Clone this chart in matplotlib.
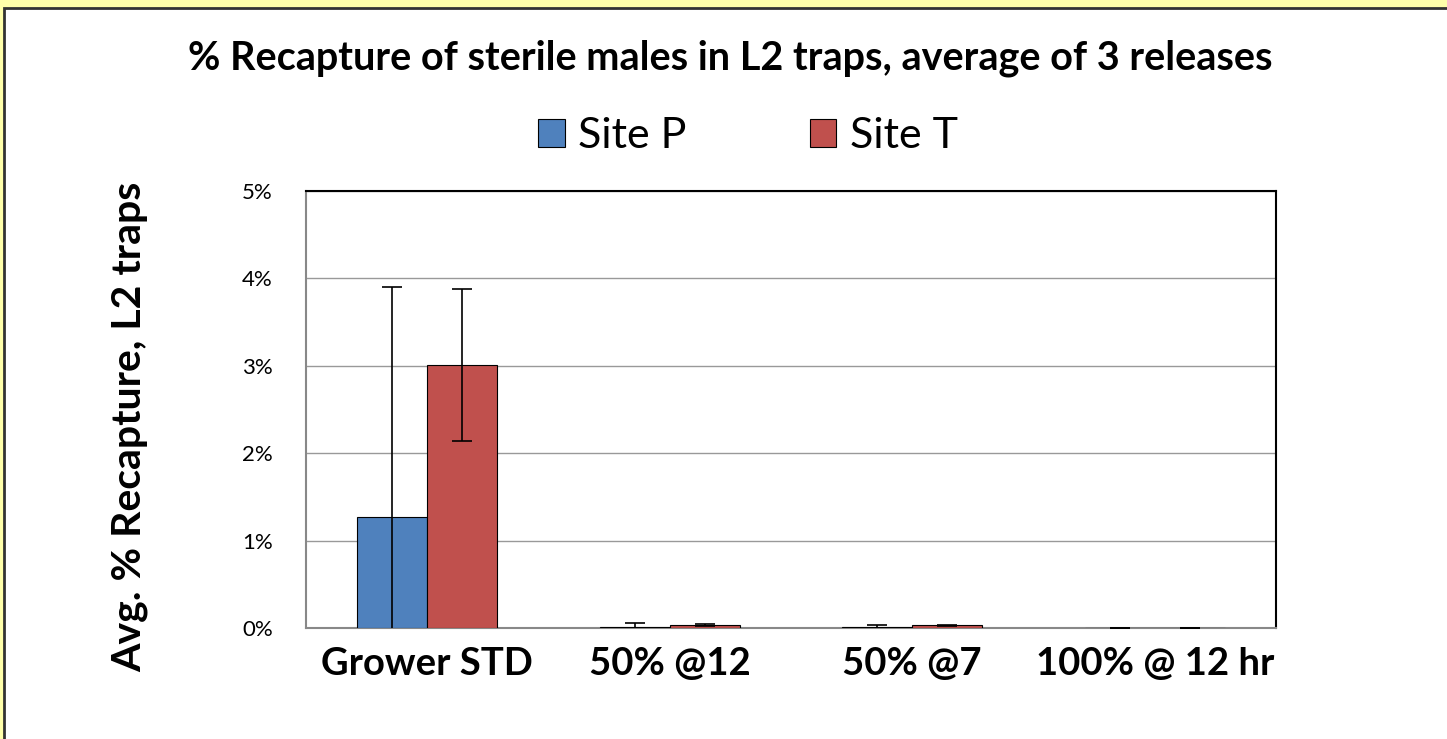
import matplotlib.pyplot as plt
import matplotlib.patches as mpatches
import numpy as np

# Recapture data (% of released sterile males)
categories = ['Grower STD', '50% @12', '50% @7', '100% @ 12 hr']
site_p = [1.27, 0.01, 0.01, 0.003]
site_t = [3.01, 0.034, 0.03, 0.003]
site_p_err = [2.63, 0.047, 0.03, 0.0]
site_t_err = [0.87, 0.01, 0.01, 0.0]
yticks = [0, 1, 2, 3, 4, 5]

plt.rcParams['font.family'] = ['Lato', 'DejaVu Sans']

fig = plt.figure(figsize=(14.47, 7.39), dpi=100)
fig.patch.set_facecolor('#FFFFAA')

# white chart area with a dark border
frame = mpatches.Rectangle((4 / 1447, -0.01), 1.01, 1 - 8 / 739 + 0.01,
                           transform=fig.transFigure, facecolor='white',
                           edgecolor='#333333', linewidth=2, zorder=-5)
fig.patches.append(frame)

ax = fig.add_axes([306 / 1447, 1 - 628 / 739, 970 / 1447, 437 / 739])
ax.set_facecolor('none')
x = np.arange(len(categories))
w = 0.289

ax.bar(x - w / 2, site_p, w, color='#4F81BD', edgecolor='black', linewidth=0.8,
       label='Site P', zorder=3)
ax.bar(x + w / 2, site_t, w, color='#C0504D', edgecolor='black', linewidth=0.8,
       label='Site T', zorder=3)
ax.errorbar(x - w / 2, site_p, yerr=site_p_err, fmt='none', ecolor='black',
            elinewidth=1.2, capsize=7, capthick=1.2, zorder=4)
ax.errorbar(x + w / 2, site_t, yerr=site_t_err, fmt='none', ecolor='black',
            elinewidth=1.2, capsize=7, capthick=1.2, zorder=4)

ax.set_xlim(-0.5, len(categories) - 0.5)
ax.set_ylim(0, 5)
ax.set_yticks(yticks)
ax.set_yticklabels([f'{t}%' for t in yticks], fontsize=16)
ax.set_xticks(x)
ax.set_xticklabels(categories, fontsize=27.5, fontweight='bold')
ax.tick_params(axis='x', length=0, pad=14)
ax.tick_params(axis='y', length=0, pad=24)
ax.grid(axis='y', color='#999999', linewidth=1, zorder=0)

ax.spines['left'].set_color('#888888')
ax.spines['bottom'].set_color('#888888')
ax.spines['top'].set_color('black')
ax.spines['right'].set_color('black')
for s in ax.spines.values():
    s.set_linewidth(1.5)

ax.set_ylabel('Avg. % Recapture, L2 traps', fontsize=29.5, fontweight='bold')
ax.yaxis.set_label_coords(-0.163, 0.46)

fig.text(0.505, 1 - 58 / 739, '% Recapture of sterile males in L2 traps, average of 3 releases',
         ha='center', va='center', fontsize=28.5, fontweight='bold')

leg = fig.legend(loc='center', bbox_to_anchor=(0.517, 1 - 136 / 739), ncol=2,
                 frameon=False, fontsize=31, handlelength=0.62, handleheight=0.62,
                 handletextpad=0.32, columnspacing=2.85)

plt.savefig('out.png', dpi=100)
